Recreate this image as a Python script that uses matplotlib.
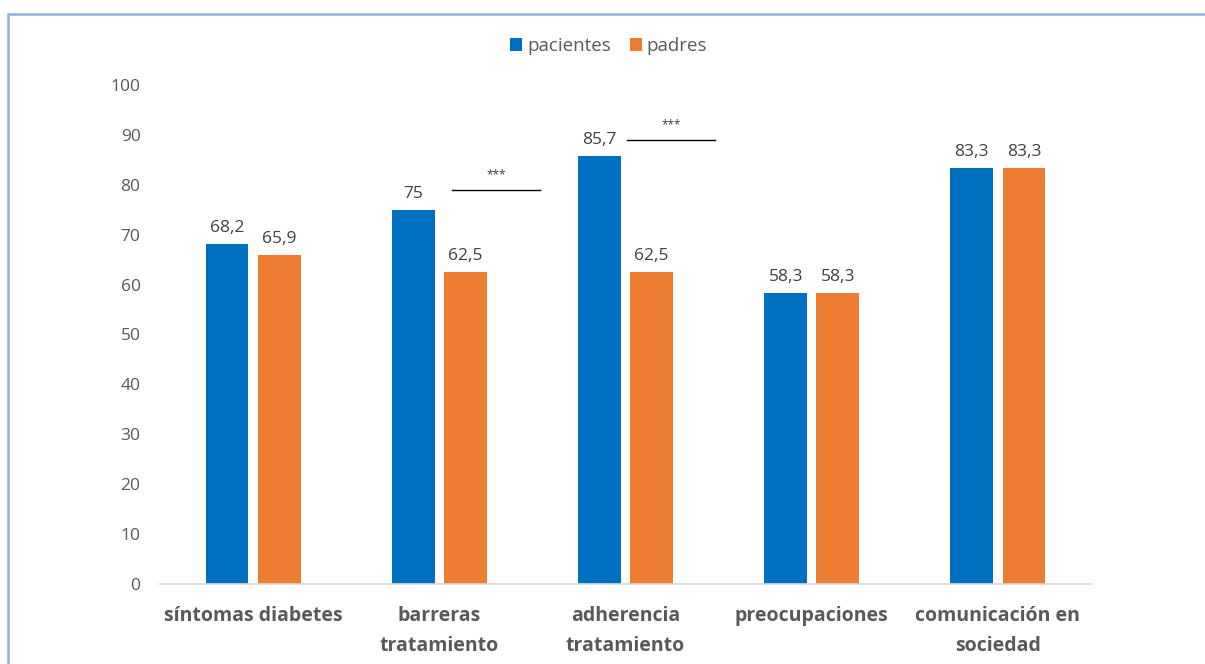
import matplotlib
matplotlib.use("Agg")
import matplotlib.pyplot as plt
import numpy as np
from matplotlib.patches import Rectangle

categories = ["síntomas diabetes", "barreras\ntratamiento", "adherencia\ntratamiento",
              "preocupaciones", "comunicación en\nsociedad"]
pacientes = [68.2, 75, 85.7, 58.3, 83.3]
padres = [65.9, 62.5, 62.5, 58.3, 83.3]
pac_labels = ["68,2", "75", "85,7", "58,3", "83,3"]
pad_labels = ["65,9", "62,5", "62,5", "58,3", "83,3"]
series_names = ["pacientes", "padres"]
# significance brackets: (category index, y value)
sig_idx = [1, 2]
sig_y = [79, 89]

plt.rcParams['font.family'] = ['Open Sans', 'DejaVu Sans']
blue = "#0070C0"
orange = "#ED7D31"
gray = "#595959"

fig = plt.figure(figsize=(12.05, 6.64), dpi=100)
ax = fig.add_axes([0.1328, 0.1205, 0.7726, 0.7515])

x = np.arange(len(categories))
w = 0.23
off = 0.14
b1 = ax.bar(x - off, pacientes, w, color=blue, label=series_names[0])
b2 = ax.bar(x + off, padres, w, color=orange, label=series_names[1])

for xi, v, t in zip(x - off, pacientes, pac_labels):
    ax.text(xi, v + 1.6, t, ha='center', va='bottom', fontsize=12.5, color='#404040')
for xi, v, t in zip(x + off, padres, pad_labels):
    ax.text(xi, v + 1.6, t, ha='center', va='bottom', fontsize=12.5, color='#404040')

sig_x0 = [0.07, 0.01]
sig_x1 = [0.54, 0.48]
for i, yv, a, b in zip(sig_idx, sig_y, sig_x0, sig_x1):
    ax.plot([i + a, i + b], [yv, yv], color='black', lw=1)
    ax.text(i + (a + b) / 2, yv + 1.8, "***", ha='center', va='bottom', fontsize=8.5, color='#404040')

ax.set_xlim(-0.5, len(categories) - 0.5)
ax.set_ylim(0, 100)
ax.set_yticks(np.arange(0, 101, 10))
ax.tick_params(axis='y', length=0, labelsize=12.5, labelcolor=gray, pad=14)
ax.tick_params(axis='x', length=0, pad=16)
ax.set_xticks(x)
ax.set_xticklabels(categories, fontsize=14, fontweight='bold', color=gray, linespacing=1.65)
for s in ['top', 'right', 'left']:
    ax.spines[s].set_visible(False)
ax.spines['bottom'].set_color('#D9D9D9')
ax.spines['bottom'].set_linewidth(1.2)

fig.legend(handles=[b1, b2], labels=series_names, loc='center', bbox_to_anchor=(0.505, 0.931),
           ncol=2, frameon=False, fontsize=13.5, handlelength=0.65, handleheight=0.7,
           handletextpad=0.25, columnspacing=1.0, labelcolor=gray)

fig.patches.append(Rectangle((8 / 1205, -0.1), 1.2, 0.1 + (664 - 14) / 664,
                             transform=fig.transFigure, fill=False,
                             edgecolor='#8FB0D8', lw=1.8, figure=fig))

fig.savefig("out.png", dpi=100, facecolor='white')
